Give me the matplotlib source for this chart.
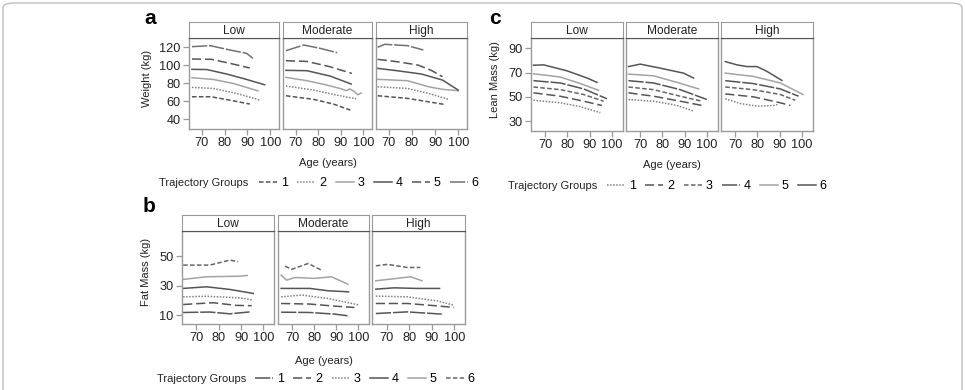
import matplotlib
matplotlib.use("Agg")
import matplotlib.pyplot as plt
from matplotlib.lines import Line2D
from matplotlib.patches import FancyBboxPatch

plt.rcParams["font.family"] = ["Liberation Sans", "DejaVu Sans"]

# ---------------------------------------------------------------- data
facets = ["Low", "Moderate", "High"]
groups = ["1", "2", "3", "4", "5", "6"]

# Weight (kg), one list per trajectory group 1..6
weight_low_age = [[65.7, 74, 82.3, 91], [65.7, 75, 85.2, 95.6], [65.7, 75, 83.7, 94.6],
                  [65.7, 72.2, 80.9, 89.6, 97.5], [65.7, 74.3, 82.3, 91],
                  [65.7, 73.7, 82.3, 89.6, 92.4]]
weight_low_val = [[64.8, 64.8, 61, 56.7], [75.2, 74, 68.5, 61], [85.9, 84, 79.6, 71.4],
                  [95.2, 95, 90, 84, 78.1], [106.7, 106.3, 101.9, 96.7],
                  [120.4, 121.5, 116.7, 113, 107.4]]
weight_mod_age = [[65.7, 78, 86.7, 94.2], [65.7, 78, 86.7, 96.8],
                  [65.7, 75, 83.8, 89.6, 92.5, 94, 96, 97.5, 99],
                  [65.7, 75, 85.2, 94.6], [65.7, 75, 85.2, 94.9], [65.7, 73.6, 80.9, 88.4]]
weight_mod_val = [[65.9, 61.9, 56.7, 50], [76.7, 72.2, 67.4, 62.5],
                  [86.3, 82.6, 77.8, 74, 71.5, 73.5, 70.5, 67, 69],
                  [94.1, 93.7, 87.8, 78.9], [104.8, 104, 98.1, 90.7], [115.9, 122.2, 118.5, 113.7]]
weight_high_age = [[65.1, 78, 94], [65.1, 78, 87.1, 95.9], [65.1, 78, 87.1, 93.2, 100],
                   [65.1, 73.5, 84.1, 93.2, 100], [65.1, 73.5, 82.6, 88.6, 93.2],
                   [65.1, 68.2, 78, 84.9]]
weight_high_val = [[65.9, 63, 56.3], [75.9, 74, 68.5, 61.9], [84.1, 82.6, 75.9, 73, 71.5],
                   [96.3, 93.7, 90, 83.3, 72.2], [106.3, 103.7, 100, 93.7, 87],
                   [119.7, 123, 121.5, 116.7]]

# Fat Mass (kg)
fat_low_age = [[64, 76, 85, 94], [64, 77.5, 88, 94.8], [64, 74.5, 89.5, 95.5],
               [64, 74.5, 85, 95.5], [64, 74.5, 89.5, 92.8], [64, 76, 85, 88.7]]
fat_low_val = [[11.8, 12.1, 10.9, 12.2], [17.2, 18.4, 16.6, 16.4], [22.4, 22.8, 21.7, 20.2],
               [28.1, 29.2, 27.4, 24.7], [34.2, 36, 36.4, 36.9], [43.9, 43.9, 47.3, 46.2]]
fat_mod_age = [[64.9, 78, 89.2, 95.5], [64.9, 78, 89.2, 98.2], [64.9, 74.2, 86.2, 100.5],
               [64.9, 78, 86.2, 95.5], [64.9, 67.4, 71.2, 80.2, 87.7, 95.2],
               [66.7, 69.7, 77.2, 83.2]]
fat_mod_val = [[12, 11.8, 10.7, 9.5], [17.9, 17.5, 16.1, 15.2], [22.4, 23.6, 21.3, 16.8],
               [28.1, 28.1, 26.5, 25.8], [37.1, 33.7, 35.5, 34.9, 36, 31],
               [43.2, 41, 45, 40.5]]
fat_high_age = [[65.2, 79.1, 94.5], [65.2, 79.1, 92.3, 100], [65.2, 79.1, 92.3, 99.7],
                [65.2, 73.2, 83.5, 93.5], [65.2, 71.8, 80.6, 85.7], [65.2, 70.3, 79.1, 85]]
fat_high_val = [[11.1, 12.2, 10.7], [17.9, 17.9, 16.3, 15.2], [22.9, 22.4, 19.7, 16.8],
                [27.6, 28.5, 28.1, 28.1], [33.3, 34.4, 36, 33.3], [43.4, 44.4, 42.3, 42.3]]

# Lean Mass (kg)
lean_low_age = [[64.7, 76.8, 85.8, 94.8], [64.7, 76.8, 87.3, 95.5], [64.7, 76.8, 87.3, 96.3],
                [64.7, 76.8, 87.3, 97.8], [64.7, 76.8, 85.8, 94], [64.7, 69.3, 79.8, 88.8, 93.3]]
lean_low_val = [[47.3, 45.2, 42, 37.1], [53.4, 50.6, 46.5, 43], [58.2, 56, 52, 46.5],
                [63.4, 61.5, 56.6, 48.5], [69.1, 66.4, 61, 55.5], [76.1, 76.4, 71.5, 65.6, 62]]
lean_mod_age = [[64.7, 76, 86.5, 94], [64.7, 76, 88, 97.8], [64.7, 76, 88, 97.8],
                [64.7, 76, 88, 100], [64.7, 76, 86.5, 96.3], [64.7, 70, 79, 89.5, 94]]
lean_mod_val = [[47.9, 46.5, 43, 38.4], [53.4, 50.6, 46.5, 43], [58.2, 56, 50.6, 46.5],
                [63.4, 61.5, 56, 47.9], [68.8, 67.4, 62, 56.6], [75, 77, 73.7, 69.6, 65.6]]
lean_high_age = [[65.5, 72.3, 79.8, 87.3, 89], [65.5, 78.2, 90.3, 94.8], [65.5, 78.2, 90.3, 97],
                 [65.5, 78.2, 90.3, 98.5], [65.5, 78.2, 90.3, 100.5],
                 [65.5, 70.8, 75.3, 79.8, 84.3, 91]]
lean_high_val = [[48.5, 44.6, 42.4, 43, 43.8], [52.5, 50.1, 45.2, 43], [58.2, 56, 52, 47.3],
                 [63.4, 61, 56.6, 50.6], [69.6, 66.9, 61.5, 52], [79.1, 76.4, 75, 75, 71, 63.6]]

# ---------------------------------------------------------------- styles
DARK, MID, LIGHT = "#555555", "#808080", "#a3a3a3"
SOLID = None
style_weight = [(DARK, (3, 1.5)), (MID, (1, 1)), (LIGHT, SOLID), (DARK, SOLID),
                (DARK, (6, 2.5)), ("#707070", (10, 1.2))]
style_fat = [(DARK, (10, 1.2)), (DARK, (6, 2.5)), (MID, (1, 1)), (DARK, SOLID),
             (LIGHT, SOLID), ("#666666", (3, 1.5))]
style_lean = [(MID, (1, 1)), (DARK, (6, 2.5)), ("#666666", (3, 1.5)), (DARK, (10, 1.2)),
              (LIGHT, SOLID), (DARK, SOLID)]

W, H = 965, 390
fig = plt.figure(figsize=(W / 100, H / 100), dpi=100)


def box(x0, y0, x1, y1):
    """pixel box (top-left origin) -> figure rect"""
    return [x0 / W, 1 - y1 / H, (x1 - x0) / W, (y1 - y0) / H]


def make_line(color, dashes, **kw):
    ln = Line2D([], [], color=color, lw=1.1, **kw)
    if dashes is not None:
        ln.set_dashes(dashes)
    return ln


def draw_panel(xs, strip_top, plot_top, plot_bot, xlim, ylim, yticks,
               ages, vals, styles, letter, letter_xy, ylabel, ylabel_xy,
               xlab_y, leg_text_x, leg_x, leg_y):
    for i, (x0, x1) in enumerate(xs):
        ax = fig.add_axes(box(x0, plot_top, x1, plot_bot))
        for g in range(6):
            color, dashes = styles[g]
            ln, = ax.plot(ages[i][g], vals[i][g], color=color, lw=1.1)
            if dashes is not None:
                ln.set_dashes(dashes)
        ax.set_xlim(*xlim)
        ax.set_ylim(*ylim)
        ax.set_xticks([70, 80, 90, 100])
        ax.set_yticks(yticks)
        for s in ax.spines.values():
            s.set_color("#9a9a9a")
            s.set_linewidth(1.0)
        ax.tick_params(direction="out", length=4, width=0.9, color="#9a9a9a",
                       labelsize=9.2, labelcolor="#222222", pad=2)
        if i > 0:
            ax.tick_params(axis="y", left=False, labelleft=False)
        # strip
        st = fig.add_axes(box(x0, strip_top, x1, plot_top))
        st.set_xticks([])
        st.set_yticks([])
        for s in st.spines.values():
            s.set_color("#9a9a9a")
        st.spines["bottom"].set_color("#555555")
        st.text(0.5, 0.45, facets[i], ha="center", va="center", fontsize=8.6,
                color="#222222", transform=st.transAxes)

    fig.text(letter_xy[0] / W, 1 - letter_xy[1] / H, letter, fontsize=15,
             fontweight="bold", ha="center", va="center")
    fig.text(ylabel_xy[0] / W, 1 - ylabel_xy[1] / H, ylabel, rotation=90,
             fontsize=8, ha="center", va="center", color="#222222")
    fig.text((xs[0][0] + xs[2][1]) / 2 / W, 1 - xlab_y / H, "Age (years)",
             fontsize=8, ha="center", va="center", color="#222222")
    fig.text(leg_text_x / W, 1 - leg_y / H, "Trajectory Groups", fontsize=8,
             ha="left", va="center", color="#222222")
    handles = [make_line(c, d) for c, d in styles]
    fig.legend(handles, groups, loc="center left",
               bbox_to_anchor=(leg_x / W, 1 - leg_y / H), ncol=6, frameon=False,
               fontsize=9, handlelength=1.45, handletextpad=0.3,
               columnspacing=0.75, borderpad=0, borderaxespad=0)


# a: weight
draw_panel([(189, 279), (283, 372), (376, 467)], 22, 38, 129,
           (64.4, 103.8), (29, 130), [40, 60, 80, 100, 120],
           [weight_low_age, weight_mod_age, weight_high_age],
           [weight_low_val, weight_mod_val, weight_high_val],
           style_weight, "a", (150, 19), "Weight (kg)", (147, 78),
           163, 159, 259, 183)

# b: fat mass
draw_panel([(182, 274), (278, 369), (372, 465)], 215, 231, 324,
           (63.5, 104.8), (4, 67), [10, 30, 50],
           [fat_low_age, fat_mod_age, fat_high_age],
           [fat_low_val, fat_mod_val, fat_high_val],
           style_fat, "b", (149, 207), "Fat Mass (kg)", (146, 272),
           361, 157, 255, 379)

# c: lean mass
draw_panel([(531, 623), (626, 718), (721, 813)], 22, 38, 131,
           (63.6, 105), (22, 98.5), [30, 50, 70, 90],
           [lean_low_age, lean_mod_age, lean_high_age],
           [lean_low_val, lean_mod_val, lean_high_val],
           style_lean, "c", (495, 19), "Lean Mass (kg)", (495, 80),
           165, 508, 607, 186)

# outer rounded frame
frame = FancyBboxPatch((3 / W, -0.05), (W - 6) / W, 1 - 3 / H + 0.05,
                       boxstyle="round,pad=0,rounding_size=0.012",
                       transform=fig.transFigure, fill=False,
                       edgecolor="#bdbdbd", lw=1.0)
fig.patches.append(frame)

fig.savefig("out.png", dpi=100)
